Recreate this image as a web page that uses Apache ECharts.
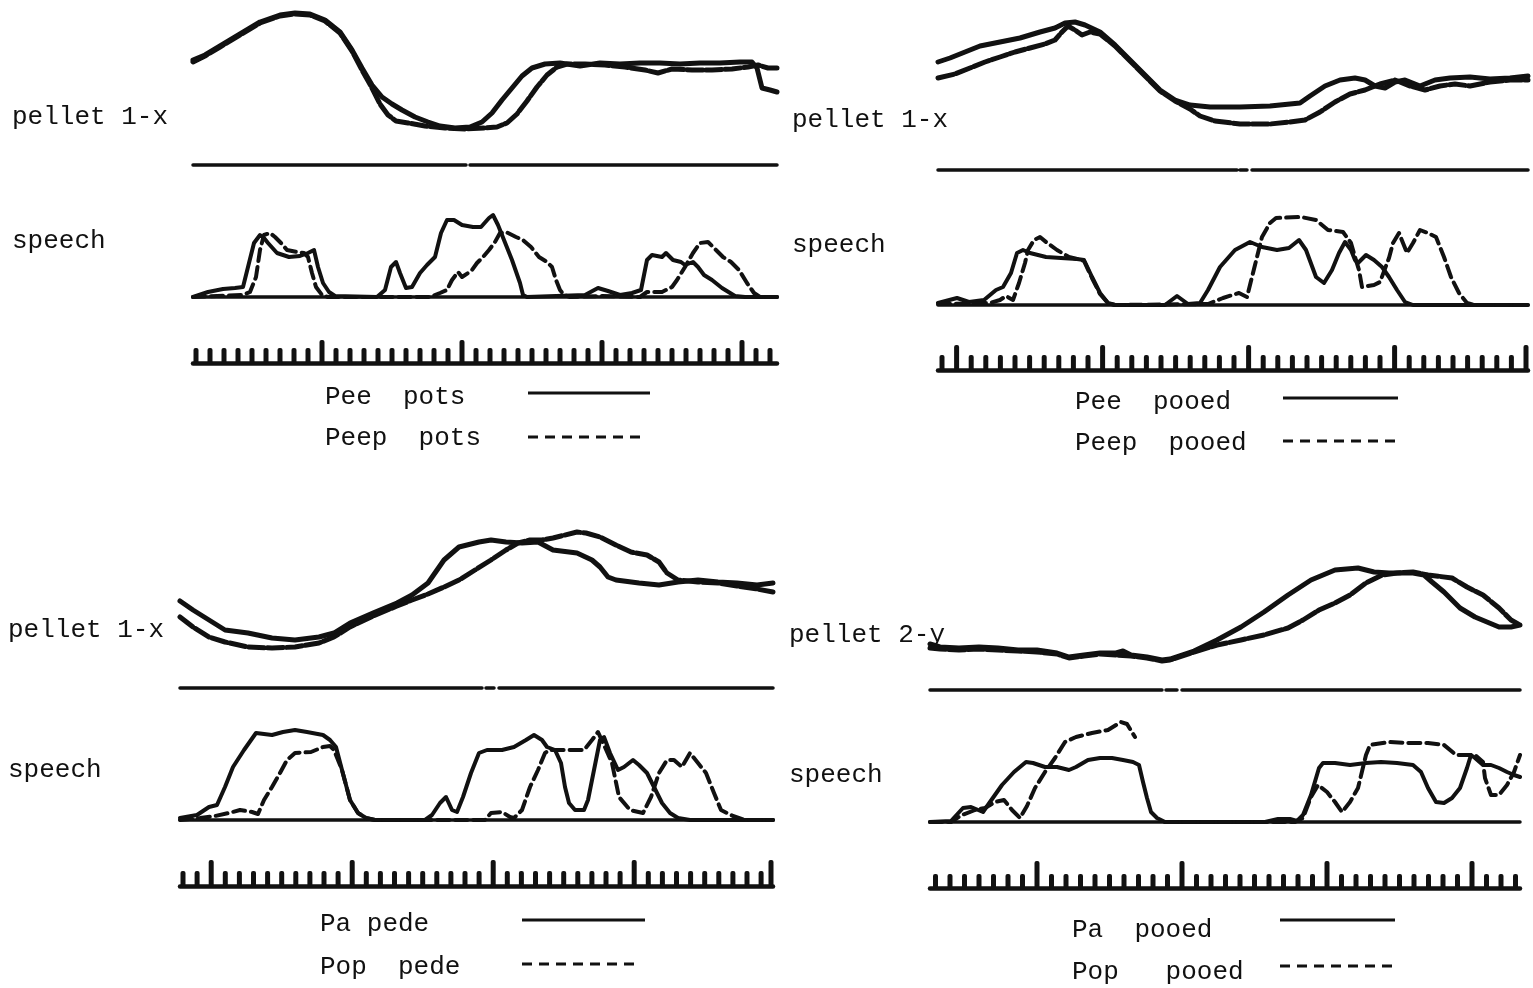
<!DOCTYPE html>
<html><head><meta charset="utf-8">
<script src="https://cdn.jsdelivr.net/npm/echarts@6/dist/echarts.min.js"></script>
<style>html,body{margin:0;padding:0;background:#fff}#c{width:1533px;height:988px}</style>
</head><body><div id="c"></div>
<script>
// ---------------- DATA (time units from trace start, amplitude above baseline) ----------------
// Panel TL : Pee pots / Peep pots
const tlPelletSolid = [[0,105],[12,110],[27,119],[47,131],[67,143],[87,150],[102,152],[117,151],[132,145],[147,133],[159,115],[169,97],[179,80],[189,68],[199,61],[209,55],[222,48],[235,43],[247,39],[262,37],[277,38],[289,43],[299,52],[309,65],[319,77],[329,89],[339,97],[352,101],[367,102],[387,99],[407,102],[427,101],[447,102],[467,102],[487,101],[507,102],[527,102],[547,103],[559,103],[564,97],[569,77],[577,75],[584,73]];
const tlPelletDash = [[0,103],[12,109],[27,118],[47,130],[67,142],[87,149],[102,151],[117,150],[132,144],[147,132],[159,114],[169,95],[179,77],[187,61],[195,50],[203,44],[215,42],[232,39],[252,37],[272,36],[292,37],[304,38],[314,42],[324,51],[334,64],[344,78],[354,90],[364,98],[374,101],[392,101],[412,100],[432,98],[452,95],[465,92],[479,96],[499,95],[519,95],[539,96],[555,98],[565,100],[575,97],[584,97]];
const tlSpeechSolid = [[0,0],[15,5],[30,8],[42,9],[50,10],[55,30],[61,54],[67,62],[71,59],[75,54],[84,44],[96,40],[107,41],[115,44],[121,47],[125,30],[130,14],[136,5],[142,1],[184,0],[192,7],[198,30],[203,35],[207,24],[213,9],[219,10],[227,24],[234,32],[242,40],[248,64],[254,77],[261,77],[269,72],[280,70],[288,70],[296,79],[300,82],[305,72],[311,57],[319,37],[327,14],[330,2],[334,0],[392,2],[405,9],[415,6],[427,2],[439,4],[448,7],[454,37],[459,42],[469,40],[473,44],[480,37],[488,35],[492,32],[500,35],[505,30],[511,22],[519,17],[529,9],[542,1],[552,0],[584,0]];
const tlSpeechDash = [[0,0],[50,2],[57,5],[63,20],[67,47],[71,62],[77,64],[82,60],[88,54],[94,47],[104,45],[111,44],[115,40],[119,24],[123,10],[129,2],[135,0],[237,0],[247,4],[254,7],[259,17],[265,25],[269,20],[275,24],[279,27],[284,34],[290,40],[296,47],[302,55],[307,64],[313,65],[323,60],[330,57],[338,50],[346,40],[354,35],[359,30],[363,17],[367,7],[371,2],[377,0],[407,1],[447,0],[454,5],[469,5],[479,10],[484,17],[492,30],[500,44],[507,54],[515,55],[523,47],[530,40],[538,35],[546,27],[554,14],[561,4],[567,0],[584,0]];
const tlBaseline = [[0,0],[273,0],[275,null],[277,0],[584,0]];
const tlRuler = {start:3, step:14, count:42, major:[9,19,29,39], end:null};

// Panel TR : Pee pooed / Peep pooed
const trPelletSolid = [[0,108],[12,112],[27,118],[42,124],[62,128],[82,132],[102,138],[117,142],[127,147],[137,148],[147,145],[162,138],[177,125],[192,110],[207,95],[222,80],[237,70],[252,65],[272,63],[302,63],[332,64],[352,66],[362,67],[372,74],[387,84],[402,90],[417,92],[427,90],[437,84],[447,82],[457,88],[467,90],[482,84],[497,90],[512,92],[532,93],[552,91],[572,92],[590,94]];
const trPelletDash = [[0,92],[17,96],[32,102],[47,108],[62,113],[77,118],[92,122],[107,126],[117,130],[124,138],[130,144],[137,140],[144,135],[152,138],[162,136],[177,124],[192,109],[207,94],[222,79],[237,69],[252,61],[262,54],[277,49],[302,46],[332,46],[352,48],[367,50],[382,58],[397,68],[412,76],[427,80],[442,86],[457,90],[472,84],[487,80],[502,84],[517,86],[532,84],[552,88],[572,90],[590,90]];
const trSpeechSolid = [[0,2],[19,7],[31,3],[46,5],[58,15],[65,18],[73,32],[79,52],[85,55],[92,52],[108,48],[123,47],[139,46],[146,45],[154,28],[162,12],[170,2],[177,0],[227,0],[239,9],[250,1],[262,2],[270,15],[282,38],[297,55],[312,63],[324,58],[339,55],[351,57],[361,65],[368,55],[378,28],[386,22],[394,35],[401,52],[407,63],[413,55],[417,45],[420,42],[428,50],[436,45],[444,38],[451,28],[459,15],[467,3],[475,0],[590,0]];
const trSpeechDash = [[0,1],[52,2],[62,5],[68,9],[75,5],[81,22],[87,42],[90,55],[96,65],[102,68],[108,63],[119,55],[131,48],[139,46],[146,44],[154,27],[162,11],[170,2],[177,0],[270,1],[285,7],[301,12],[309,8],[317,40],[324,68],[332,82],[338,87],[363,88],[378,85],[390,75],[405,73],[413,62],[417,48],[421,35],[424,18],[436,20],[442,23],[451,47],[455,62],[461,72],[469,52],[475,62],[482,75],[490,72],[498,68],[506,48],[513,28],[521,12],[529,2],[537,0],[590,0]];
const trBaseline = [[0,0],[299,0],[300,null],[302,0],[309,0],[311,null],[314,0],[590,0]];
const trRuler = {start:4, step:14.6, count:40, major:[1,11,21,31], end:588};

// Panel BL : Pa pede / Pop pede
const blPelletSolid = [[0,87],[13,78],[29,68],[45,58],[68,55],[92,50],[115,48],[139,51],[154,55],[170,65],[193,75],[217,85],[232,93],[248,105],[264,128],[279,141],[299,146],[311,148],[326,146],[342,145],[358,146],[373,138],[397,135],[412,128],[420,121],[428,111],[436,108],[459,105],[479,103],[498,106],[518,108],[538,106],[557,105],[577,103],[593,105]];
const blPelletDash = [[0,71],[13,61],[29,51],[45,46],[68,41],[92,40],[115,41],[139,45],[154,51],[170,61],[193,72],[217,82],[232,88],[248,94],[264,101],[279,108],[295,118],[311,128],[326,138],[338,145],[350,148],[362,148],[373,150],[381,152],[397,156],[406,155],[420,151],[436,143],[451,136],[467,133],[479,126],[487,115],[498,108],[518,106],[538,105],[557,102],[577,99],[593,96]];
const blSpeechSolid = [[0,2],[17,5],[29,13],[37,15],[45,33],[53,53],[64,70],[76,87],[92,85],[103,88],[115,90],[127,88],[143,85],[150,80],[156,73],[162,50],[170,20],[178,7],[186,2],[195,0],[245,0],[252,5],[260,17],[266,23],[272,10],[277,8],[283,23],[291,47],[299,67],[307,70],[322,70],[334,73],[346,80],[354,85],[362,80],[367,73],[375,70],[381,57],[385,33],[389,17],[395,10],[404,10],[408,20],[412,40],[416,60],[420,80],[424,83],[430,67],[438,50],[444,53],[453,60],[459,55],[467,47],[474,33],[482,17],[490,7],[498,2],[510,0],[593,0]];
const blSpeechDash = [[0,0],[20,2],[35,4],[49,7],[60,10],[72,8],[78,6],[84,20],[92,33],[100,47],[107,60],[115,67],[131,68],[143,73],[150,74],[154,70],[162,50],[170,20],[178,7],[186,2],[195,0],[305,0],[311,7],[322,8],[330,3],[334,2],[342,10],[350,33],[358,50],[365,67],[369,70],[373,70],[387,70],[404,70],[412,80],[418,88],[424,75],[432,57],[439,23],[450,10],[463,7],[471,23],[479,47],[487,60],[494,60],[502,53],[510,67],[518,57],[526,47],[534,27],[541,10],[553,4],[565,0],[593,0]];
const blBaseline = [[0,0],[302,0],[304,null],[306,0],[314,0],[316,null],[319,0],[593,0]];
const blRuler = {start:3, step:14.1, count:42, major:[2,12,22,32], end:591};

// Panel BR : Pa pooed / Pop pooed
const brPelletSolid = [[0,46],[10,43],[29,42],[49,43],[68,42],[88,40],[107,40],[127,37],[139,33],[154,35],[170,37],[186,37],[193,39],[201,35],[217,33],[232,30],[240,31],[264,39],[287,50],[311,63],[334,78],[358,95],[381,110],[405,120],[428,122],[444,118],[459,117],[483,117],[494,115],[502,108],[514,98],[530,82],[545,73],[557,68],[569,63],[581,63],[590,65]];
const brPelletDash = [[0,42],[10,41],[29,40],[49,41],[68,40],[88,39],[107,38],[127,36],[139,32],[154,34],[170,36],[186,35],[201,34],[217,32],[232,29],[240,30],[264,38],[287,45],[311,50],[334,55],[358,62],[373,70],[389,80],[405,87],[420,95],[436,107],[452,115],[467,117],[483,118],[498,115],[522,112],[537,103],[553,95],[569,82],[581,70],[590,65]];
const brSpeechSolid = [[0,0],[21,1],[33,14],[41,15],[53,10],[60,20],[72,37],[84,50],[96,60],[103,59],[115,55],[127,55],[139,52],[146,55],[158,62],[170,64],[182,64],[193,62],[203,60],[209,57],[213,40],[217,24],[221,10],[227,4],[235,0],[335,0],[348,3],[360,3],[367,1],[373,7],[381,27],[389,54],[393,59],[405,59],[420,57],[436,59],[451,60],[467,59],[483,57],[491,50],[498,34],[506,20],[514,19],[522,24],[530,34],[537,54],[541,67],[545,64],[553,57],[561,57],[569,54],[577,50],[584,47],[590,45]];
const brSpeechDash = [[0,0],[21,0],[32,7],[45,12],[55,14],[65,20],[74,22],[82,12],[90,4],[97,16],[105,34],[115,50],[125,64],[135,80],[146,85],[162,89],[178,92],[191,100],[197,98],[205,85],[220,null],[235,0],[365,0],[373,4],[381,25],[388,37],[397,30],[405,20],[412,10],[420,20],[428,34],[436,67],[440,77],[459,80],[479,79],[498,79],[514,77],[526,67],[534,67],[545,67],[553,60],[555,44],[561,27],[569,27],[577,37],[584,50],[590,67]];
const brBaseline = [[0,0],[232,0],[234,null],[236,0],[247,0],[249,null],[252,0],[590,0]];
const brRuler = {start:5.5, step:14.5, count:41, major:[7,17,27,37], end:null};

// ---------------- TEXT ----------------
const axisLabelsTL = ['pellet 1-x', 'speech'];
const axisLabelsTR = ['pellet 1-x', 'speech'];
const axisLabelsBL = ['pellet 1-x', 'speech'];
const axisLabelsBR = ['pellet 2-y', 'speech'];
const legendTL = ['Pee  pots', 'Peep  pots'];
const legendTR = ['Pee  pooed', 'Peep  pooed'];
const legendBL = ['Pa pede', 'Pop  pede'];
const legendBR = ['Pa  pooed', 'Pop   pooed'];

// ---------------- LAYOUT (positions / sizes / styles) ----------------
const panels = [
  {left:193, width:584, pel:[5,160], sp:[207,90], ru:[333,30], tick:[15,23],
   data:[tlPelletSolid,tlPelletDash,tlSpeechSolid,tlSpeechDash,tlBaseline,tlRuler],
   labels:axisLabelsTL, labelPos:[[12,117],[12,241]],
   legend:legendTL, legPos:[[325,397],[325,438]], legLines:[[528,650,393],[528,645,437]]},
  {left:938, width:590, pel:[10,160], sp:[215,90], ru:[340,30], tick:[15,25],
   data:[trPelletSolid,trPelletDash,trSpeechSolid,trSpeechDash,trBaseline,trRuler],
   labels:axisLabelsTR, labelPos:[[792,120],[792,245]],
   legend:legendTR, legPos:[[1075,402],[1075,443]], legLines:[[1283,1398,398],[1283,1398,441]]},
  {left:180, width:593, pel:[518,170], sp:[720,100], ru:[856,30], tick:[15,26],
   data:[blPelletSolid,blPelletDash,blSpeechSolid,blSpeechDash,blBaseline,blRuler],
   labels:axisLabelsBL, labelPos:[[8,630],[8,770]],
   legend:legendBL, legPos:[[320,924],[320,967]], legLines:[[522,645,920],[522,640,964]]},
  {left:930, width:590, pel:[530,160], sp:[712,110], ru:[858,30], tick:[14,27],
   data:[brPelletSolid,brPelletDash,brSpeechSolid,brSpeechDash,brBaseline,brRuler],
   labels:axisLabelsBR, labelPos:[[789,635],[789,775]],
   legend:legendBR, legPos:[[1072,930],[1072,972]], legLines:[[1280,1395,920],[1280,1395,966]]}
];

const INK = '#111';
const FONT = '26px "Liberation Mono", "DejaVu Sans Mono", monospace';

const grid = [], xAxis = [], yAxis = [], series = [], graphic = [];

function addGrid(p, top, height, lineW) {
  const i = grid.length;
  grid.push({left:p.left, top:top, width:p.width, height:height, containLabel:false});
  xAxis.push({type:'value', gridIndex:i, min:0, max:p.width,
    axisLine:{show:lineW>0, onZero:false, lineStyle:{color:INK, width:lineW||1}},
    axisTick:{show:false}, axisLabel:{show:false}, splitLine:{show:false}});
  yAxis.push({type:'value', gridIndex:i, min:0, max:height, show:false, splitLine:{show:false}});
  return i;
}
function line(data, gi, width, dash) {
  series.push({type:'line', xAxisIndex:gi, yAxisIndex:gi, data:data, symbol:'none', showSymbol:false,
    clip:false, silent:true, connectNulls:false, animation:false,
    lineStyle:{color:INK, width:width, type: dash || 'solid', cap:'round', join:'round'}});
}

panels.forEach(p => {
  const [pS, pD, sS, sD, base, ruler] = p.data;
  const gp = addGrid(p, p.pel[0], p.pel[1], 0);
  line(base, gp, 3.5);
  line(pS, gp, 5);
  line(pD, gp, 5, [16, 3]);
  const gs = addGrid(p, p.sp[0], p.sp[1], 3.5);
  line(sS, gs, 4);
  line(sD, gs, 4, [12, 6]);
  const gr = addGrid(p, p.ru[0], p.ru[1], 4.5);
  const ticks = [];
  for (let k = 0; k < ruler.count; k++) {
    const t = ruler.start + k * ruler.step;
    ticks.push([+t.toFixed(1), ruler.major.indexOf(k) >= 0 ? p.tick[1] : p.tick[0]]);
  }
  if (ruler.end !== null) ticks.push([ruler.end, p.tick[1]]);
  series.push({type:'bar', xAxisIndex:gr, yAxisIndex:gr, data:ticks, barWidth:5, silent:true,
    animation:false, itemStyle:{color:INK, borderRadius:[2,2,0,0]}});
  p.labels.forEach((txt, j) => {
    graphic.push({type:'text', style:{text:txt, x:p.labelPos[j][0], y:p.labelPos[j][1],
      font:FONT, fill:INK, verticalAlign:'middle', textVerticalAlign:'middle'}});
  });
  p.legend.forEach((txt, j) => {
    graphic.push({type:'text', style:{text:txt, x:p.legPos[j][0], y:p.legPos[j][1],
      font:FONT, fill:INK, verticalAlign:'middle', textVerticalAlign:'middle'}});
    const L = p.legLines[j];
    graphic.push({type:'line', shape:{x1:L[0], y1:L[2], x2:L[1], y2:L[2]},
      style:{stroke:INK, lineWidth:3, lineDash: j === 0 ? null : [10, 7]}});
  });
});

const chart = echarts.init(document.getElementById('c'), null, {renderer:'canvas'});
chart.setOption({animation:false, backgroundColor:'#fff', grid, xAxis, yAxis, series, graphic});
</script></body></html>
